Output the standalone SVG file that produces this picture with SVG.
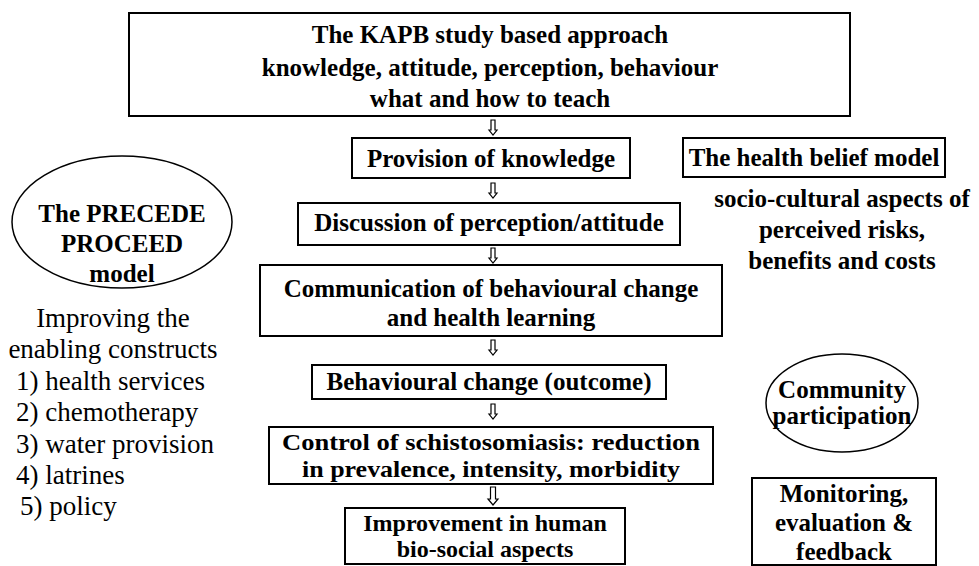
<svg xmlns="http://www.w3.org/2000/svg" width="979" height="566" viewBox="0 0 979 566">
<defs>
<style>
.box{fill:#fff;stroke:#000;stroke-width:2}
.ell{fill:none;stroke:#000;stroke-width:1.5}
.b{font-family:"Liberation Serif","Times New Roman",serif;font-weight:bold;font-size:25px;fill:#000;text-anchor:middle}
.s{font-size:24px}
.r{font-family:"Liberation Serif","Times New Roman",serif;font-size:27px;fill:#000}
.arr{fill:#fff;stroke:#000;stroke-width:1.2}
</style>
<path id="ar" d="M-2,0 H2 V10 H4 L0,15 L-4,10 H-2 Z"/>
<path id="arL" d="M-2.5,0 H2.5 V12 H5 L0,18 L-5,12 H-2.5 Z"/>
</defs>
<rect width="979" height="566" fill="#fff"/>
<g id="connectors">
<use href="#ar" class="arr" x="493" y="120"/>
<use href="#ar" class="arr" x="493" y="183"/>
<use href="#ar" class="arr" x="493" y="248"/>
<use href="#ar" class="arr" x="493" y="340"/>
<use href="#ar" class="arr" x="493" y="404"/>
<use href="#arL" class="arr" x="493" y="487"/>
</g>
<g id="kapb">
<rect class="box" x="129" y="13" width="721" height="103"/>
<text class="b" x="490" y="43">The KAPB study based approach</text>
<text class="b" x="490" y="76">knowledge, attitude, perception, behaviour</text>
<text class="b" x="490" y="107">what and how to teach</text>
</g>
<g id="provision">
<rect class="box" x="352" y="138" width="278" height="40"/>
<text class="b" x="491" y="167">Provision of knowledge</text>
</g>
<g id="discussion">
<rect class="box" x="298" y="203" width="382" height="42"/>
<text class="b" x="489" y="231">Discussion of perception/attitude</text>
</g>
<g id="communication">
<rect class="box" x="260" y="265" width="462" height="71"/>
<text class="b" x="491" y="297">Communication of behavioural change</text>
<text class="b" x="491" y="326">and health learning</text>
</g>
<g id="behaviour">
<rect class="box" x="312" y="365" width="354" height="34"/>
<text class="b" x="489" y="390">Behavioural change (outcome)</text>
</g>
<g id="control">
<rect class="box" x="269" y="427" width="444" height="57"/>
<text class="b s" x="491" y="450" textLength="418" lengthAdjust="spacingAndGlyphs">Control of schistosomiasis: reduction</text>
<text class="b s" x="491" y="477" textLength="378" lengthAdjust="spacingAndGlyphs">in prevalence, intensity, morbidity</text>
</g>
<g id="improvement">
<rect class="box" x="345" y="508" width="280" height="56"/>
<text class="b s" x="485" y="531">Improvement  in human</text>
<text class="b s" x="485" y="557">bio-social aspects</text>
</g>
<g id="precede">
<ellipse class="ell" cx="122" cy="222" rx="110" ry="66"/>
<text class="b" x="122" y="222">The PRECEDE</text>
<text class="b" x="122" y="252">PROCEED</text>
<text class="b" x="122" y="282">model</text>
</g>
<g id="enabling">
<text class="r" x="113" y="327" text-anchor="middle">Improving the</text>
<text class="r" x="113" y="358" text-anchor="middle">enabling constructs</text>
<text class="r" x="16" y="390">1) health services</text>
<text class="r" x="16" y="421">2) chemotherapy</text>
<text class="r" x="16" y="453">3) water provision</text>
<text class="r" x="16" y="484">4) latrines</text>
<text class="r" x="20" y="515">5) policy</text>
</g>
<g id="healthbelief">
<rect class="box" x="683" y="138" width="262" height="39"/>
<text class="b" x="814" y="166">The health belief model</text>
</g>
<g id="sociocultural">
<text class="b" x="842" y="207">socio-cultural aspects of</text>
<text class="b" x="842" y="238">perceived risks,</text>
<text class="b" x="842" y="269">benefits and costs</text>
</g>
<g id="community">
<ellipse class="ell" cx="842" cy="403" rx="76" ry="49"/>
<text class="b" x="842" y="398">Community</text>
<text class="b" x="842" y="424">participation</text>
</g>
<g id="monitoring">
<rect class="box" x="752" y="478" width="184" height="87"/>
<text class="b" x="844" y="502">Monitoring,</text>
<text class="b" x="844" y="531">evaluation &amp;</text>
<text class="b" x="844" y="560">feedback</text>
</g>
</svg>
